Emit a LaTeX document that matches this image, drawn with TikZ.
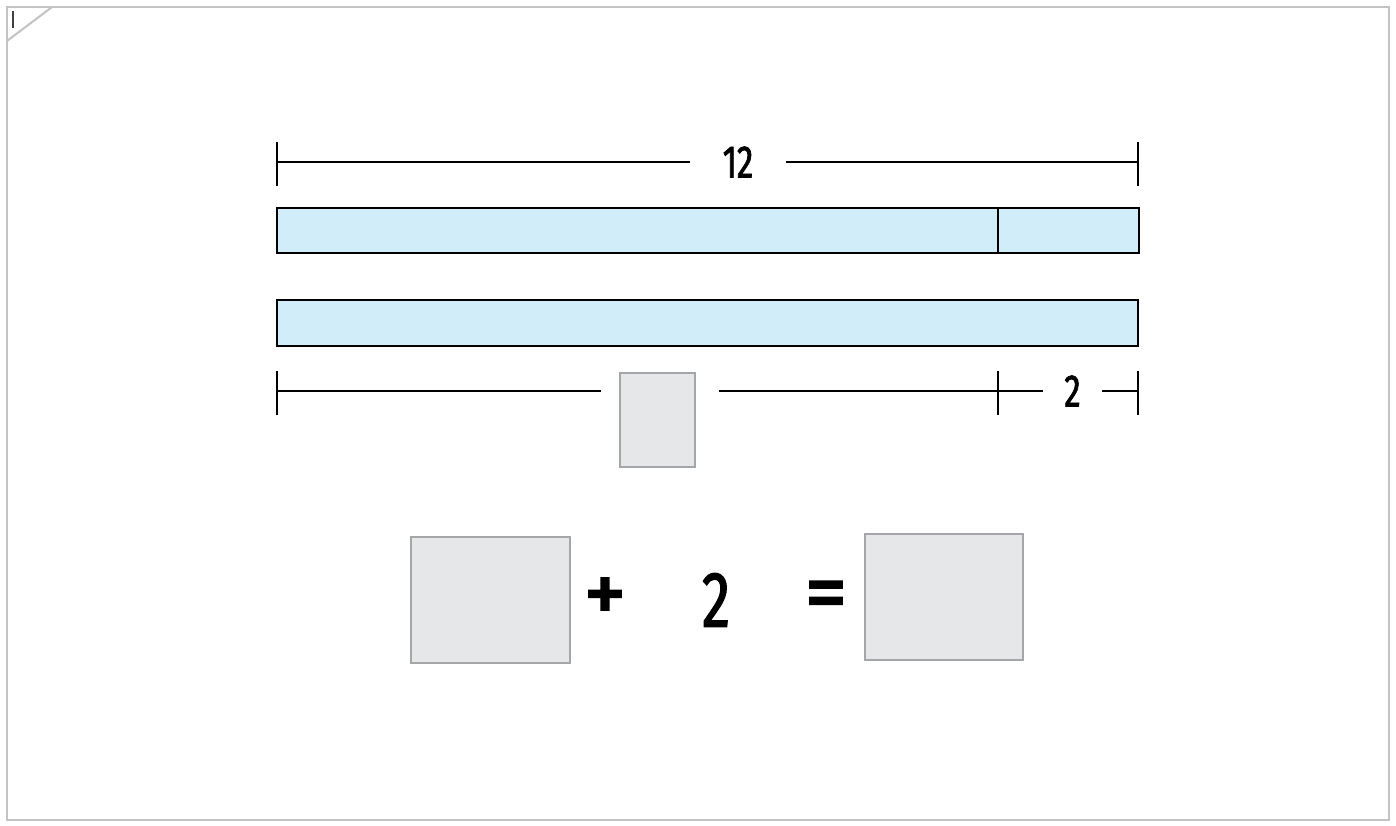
\documentclass[tikz,border=0pt]{standalone}
\usepackage{fontspec}
\setmainfont{Fira Sans}[FakeStretch=0.72, FakeBold=1.6]
\newfontfamily\signfont{Fira Sans}[FakeBold=2.5]
\definecolor{barblue}{HTML}{D2EDFA}
\definecolor{boxgray}{HTML}{E6E7E8}
\definecolor{boxline}{HTML}{A4A6A9}
\definecolor{framegray}{HTML}{C4C4C4}
\tikzset{
  bar/.style={draw=black, fill=barblue, line width=1.1pt},
  dim/.style={line width=1.1pt},
  blank/.style={draw=boxline, fill=boxgray, line width=1.3pt, inner sep=0pt},
  label/.style={inner sep=0pt, font=\fontsize{26}{26}\selectfont},
  eqn/.style={inner sep=0pt, font=\fontsize{45}{45}\selectfont},
  sign/.style={inner sep=0pt, font=\signfont\fontsize{48}{48}\selectfont},
}
\begin{document}
\begin{tikzpicture}[x=0.02cm, y=-0.02cm]
\useasboundingbox (0,0) rectangle (1396,825);
\draw[framegray, line width=1.2pt] (7,7) rectangle (1389,820);
\draw[framegray, line width=1.2pt] (7,41) -- (52,7);
\draw[black!75, line width=0.6pt] (13,11) -- (13,28);

% bars
\draw[bar] (277,208) rectangle (1139,253);
\draw[line width=1.1pt] (998,208) -- (998,253);
\draw[bar] (277,300) rectangle (1138,346);

% total length
\coordinate (tl) at (277,162);
\coordinate (tr) at (1138,162);
\node[label, minimum width=1.92cm] (twelve) at (738,162) {12};
\draw[dim] (tl) -- (twelve.west);
\draw[dim] (twelve.east) -- (tr);
\draw[dim] (277,142) -- (277,186);
\draw[dim] (1138,142) -- (1138,186);

% parts
\coordinate (bl) at (277,391);
\coordinate (bm) at (998,391);
\coordinate (br) at (1138,391);
\node[blank, minimum width=1.5cm, minimum height=1.88cm] (part) at (657.5,420) {};
\node[label, minimum width=1.18cm] (two) at (1072.5,391) {2};
\draw[dim] (bl) -- ([xshift=-0.36cm]part.west |- bl);
\draw[dim] ([xshift=0.46cm]part.east |- bl) -- (bm);
\draw[dim] (bm) -- (two.west);
\draw[dim] (two.east) -- (br);
\foreach \x in {277,998,1138}
  \draw[dim] (\x,371) -- (\x,415);

% equation
\node[blank, minimum width=3.18cm, minimum height=2.52cm] (lhs) at (490.5,600) {};
\node[sign] (plus) at (605,600) {+};
\node[eqn] (addend) at (716,600) {2};
\node[sign] (equals) at (826,601) {=};
\node[blank, minimum width=3.16cm, minimum height=2.52cm] (rhs) at (944,597) {};
\end{tikzpicture}
\end{document}
